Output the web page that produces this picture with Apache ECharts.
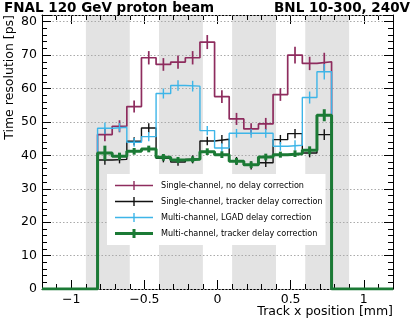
<!DOCTYPE html>
<html>
<head>
<meta charset="utf-8">
<script src="https://cdn.jsdelivr.net/npm/echarts@6/dist/echarts.min.js"></script>
<style>
html, body { margin: 0; padding: 0; background: #fff; }
#chart { width: 415px; height: 322px; }
</style>
</head>
<body>
<div id="chart"></div>
<script>
// histogram bin edges, track x [mm]
const binEdges = [-0.82, -0.72, -0.62, -0.52, -0.42, -0.32, -0.22, -0.12, -0.02,
  0.08, 0.18, 0.28, 0.38, 0.48, 0.58, 0.68, 0.78];

// time resolution [ps] and errors per bin
const noDelay = [46.2, 48.7, 54.6, 69.2, 67.2, 67.9, 69.2, 73.9, 57.6, 50.9, 47.9, 49.4, 58.2, 70.0, 67.5, 68.0];
const noDelayErr = [2.0, 1.8, 1.8, 2.0, 1.9, 2.0, 2.0, 2.1, 1.9, 1.8, 1.7, 1.8, 1.9, 2.5, 2.0, 2.7];
const singleTracker = [38.6, 38.8, 44.2, 48.2, 39.1, 38.0, 38.8, 44.3, 44.8, 38.3, 37.0, 37.8, 44.7, 46.5, 40.7, 46.2];
const singleTrackerErr = [1.4, 1.2, 1.2, 1.4, 1.2, 1.1, 1.2, 1.3, 1.3, 1.2, 1.2, 1.3, 1.4, 1.4, 1.3, 1.6];
const multiLgad = [48.1, 48.4, 43.9, 45.6, 58.5, 60.9, 60.7, 47.4, 42.2, 46.6, 46.6, 46.6, 42.7, 43.0, 57.3, 65.0];
const multiLgadErr = [1.7, 1.3, 1.3, 1.4, 1.5, 1.6, 1.6, 1.4, 1.4, 1.3, 1.3, 1.3, 1.3, 1.5, 1.8, 2.3];
const multiTracker = [40.7, 39.7, 41.2, 41.9, 39.4, 38.6, 38.8, 41.1, 40.2, 38.2, 37.2, 39.5, 40.2, 40.5, 41.5, 52.0];
const multiTrackerErr = [2.2, 1.1, 1.0, 1.0, 1.0, 0.9, 0.9, 1.0, 1.0, 1.0, 1.0, 1.0, 0.9, 1.0, 1.2, 1.8];

// shaded regions (metal pads)
const bandStart = [-0.9, -0.4, 0.1, 0.6];
const bandEnd = [-0.6, -0.1, 0.4, 0.9];

// axis ranges and ticks
const xMin = -1.2, xMax = 1.2, yMax = 82;
const xMajorTicks = [-1, -0.5, 0, 0.5, 1];
const xMinorTicks = [-1.1, -1, -0.9, -0.8, -0.7, -0.6, -0.5, -0.4, -0.3, -0.2, -0.1, 0,
  0.1, 0.2, 0.3, 0.4, 0.5, 0.6, 0.7, 0.8, 0.9, 1, 1.1];

const names = [
  'Single-channel, no delay correction',
  'Single-channel, tracker delay correction',
  'Multi-channel, LGAD delay correction',
  'Multi-channel, tracker delay correction'
];
const colors = ['#8e2c5e', '#111111', '#3db5e8', '#1b7a35'];
const widths = [1.7, 1.4, 1.4, 3];

const FONT = 'DejaVu Sans';

// step outline of a histogram
function stepData(vals) {
  const pts = [[xMin, 0], [binEdges[0], 0]];
  vals.forEach(function (v, i) {
    pts.push([binEdges[i], v]);
    pts.push([binEdges[i + 1], v]);
  });
  pts.push([binEdges[binEdges.length - 1], 0]);
  pts.push([xMax, 0]);
  return pts;
}

function errData(vals, errs) {
  return vals.map(function (v, i) {
    return [(binEdges[i] + binEdges[i + 1]) / 2, v, errs[i]];
  });
}

function errSeries(vals, errs, k) {
  return {
    type: 'custom',
    name: 'err' + k,
    z: 3 + k,
    data: errData(vals, errs),
    renderItem: function (params, api) {
      const x = api.value(0), y = api.value(1), e = api.value(2);
      const p1 = api.coord([x, y - e]);
      const p2 = api.coord([x, y + e]);
      return {
        type: 'line',
        shape: { x1: p1[0], y1: p1[1], x2: p2[0], y2: p2[1] },
        style: { stroke: colors[k], lineWidth: widths[k] }
      };
    }
  };
}

function stepSeries(vals, k) {
  return {
    type: 'line',
    name: names[k],
    z: 3 + k,
    data: stepData(vals),
    symbol: 'none',
    lineStyle: { color: colors[k], width: widths[k] },
    itemStyle: { color: colors[k] }
  };
}

function legendIcon(t) {
  const y0 = 4.5 - t / 2;
  const x0 = 19 - t / 2;
  return 'path://M0,' + y0 + 'L38,' + y0 + 'L38,' + (y0 + t) + 'L0,' + (y0 + t) + 'Z' +
    'M' + x0 + ',0L' + (x0 + t) + ',0L' + (x0 + t) + ',9L' + x0 + ',9Z';
}

const chart = echarts.init(document.getElementById('chart'));

const xBase = {
  type: 'value', min: xMin, max: xMax,
  splitLine: { show: false }
};
const yBase = {
  type: 'value', min: 0, max: yMax, interval: 10,
  axisLine: { show: true, onZero: false, lineStyle: { color: '#000', width: 1 } },
  axisTick: { show: true, inside: true, length: 9, lineStyle: { color: '#000' } },
  minorTick: { show: true, splitNumber: 5, length: 5, lineStyle: { color: '#000' } }
};

chart.setOption({
  animation: false,
  title: [
    { text: 'FNAL 120 GeV proton beam', left: 4, top: 1, padding: 0,
      textStyle: { fontFamily: FONT, fontWeight: 'bold', fontSize: 13.5, color: '#000' } },
    { text: 'BNL 10-300, 240V', right: 5, top: 1, padding: 0,
      textStyle: { fontFamily: FONT, fontWeight: 'bold', fontSize: 13.5, color: '#000' } }
  ],
  grid: { left: 42, right: 22, top: 15, bottom: 33, containLabel: false },
  legend: {
    orient: 'vertical',
    left: 107, top: 174,
    padding: [7, 3, 7, 8],
    backgroundColor: '#fff',
    itemWidth: 38, itemHeight: 12, itemGap: 7,
    textStyle: { fontFamily: FONT, fontSize: 8.1, color: '#000', padding: [0, 0, 0, 3] },
    data: names.map(function (n, k) {
      return {
        name: n,
        icon: legendIcon(k === 3 ? 3 : 1.4),
        itemStyle: { color: colors[k], borderWidth: 0 }
      };
    })
  },
  xAxis: [
    Object.assign({}, xBase, {
      position: 'bottom',
      axisLine: { show: true, onZero: false, lineStyle: { color: '#000' } },
      axisTick: { show: true, inside: true, length: 9, customValues: xMajorTicks, lineStyle: { color: '#000' } },
      axisLabel: {
        customValues: xMajorTicks, margin: 4, fontFamily: FONT, fontSize: 12.5, color: '#000',
        formatter: function (v) { return String(v).replace('-', '\u2212'); }
      }
    }),
    Object.assign({}, xBase, {
      position: 'bottom',
      axisLine: { show: false, onZero: false },
      axisTick: { show: true, inside: true, length: 5, customValues: xMinorTicks, lineStyle: { color: '#000' } },
      axisLabel: { show: false }
    }),
    Object.assign({}, xBase, {
      position: 'top',
      axisLine: { show: true, onZero: false, lineStyle: { color: '#000' } },
      axisTick: { show: true, inside: true, length: 9, customValues: xMajorTicks, lineStyle: { color: '#000' } },
      axisLabel: { show: false }
    }),
    Object.assign({}, xBase, {
      position: 'top',
      axisLine: { show: false, onZero: false },
      axisTick: { show: true, inside: true, length: 5, customValues: xMinorTicks, lineStyle: { color: '#000' } },
      axisLabel: { show: false }
    })
  ],
  yAxis: [
    Object.assign({}, yBase, {
      position: 'left',
      z: 1,
      splitLine: { show: true, lineStyle: { color: '#aaaaaa', width: 1, type: [1.5, 2] } },
      axisLabel: { margin: 5, fontFamily: FONT, fontSize: 12.5, color: '#000' }
    }),
    Object.assign({}, yBase, {
      position: 'right',
      z: 1,
      splitLine: { show: false },
      axisLabel: { show: false }
    })
  ],
  graphic: [
    { type: 'text', x: 3, y: 15, rotation: Math.PI / 2,
      style: { text: 'Time resolution [ps]', align: 'right', verticalAlign: 'top',
        font: '12.5px "DejaVu Sans"', fill: '#000' } },
    { type: 'text', x: 393, y: 305,
      style: { text: 'Track x position [mm]', align: 'right', verticalAlign: 'top',
        font: '12.5px "DejaVu Sans"', fill: '#000' } }
  ],
  series: [
    {
      type: 'custom',
      name: 'bands',
      z: 0,
      silent: true,
      data: bandStart.map(function (s, i) { return [s, bandEnd[i]]; }),
      renderItem: function (params, api) {
        const a = api.coord([api.value(0), yMax]);
        const b = api.coord([api.value(1), 0]);
        return {
          type: 'rect',
          shape: { x: a[0], y: a[1], width: b[0] - a[0], height: b[1] - a[1] },
          style: { fill: '#e3e3e3' }
        };
      }
    },
    stepSeries(noDelay, 0),
    errSeries(noDelay, noDelayErr, 0),
    stepSeries(singleTracker, 1),
    errSeries(singleTracker, singleTrackerErr, 1),
    stepSeries(multiLgad, 2),
    errSeries(multiLgad, multiLgadErr, 2),
    stepSeries(multiTracker, 3),
    errSeries(multiTracker, multiTrackerErr, 3)
  ]
});
</script>
</body>
</html>
